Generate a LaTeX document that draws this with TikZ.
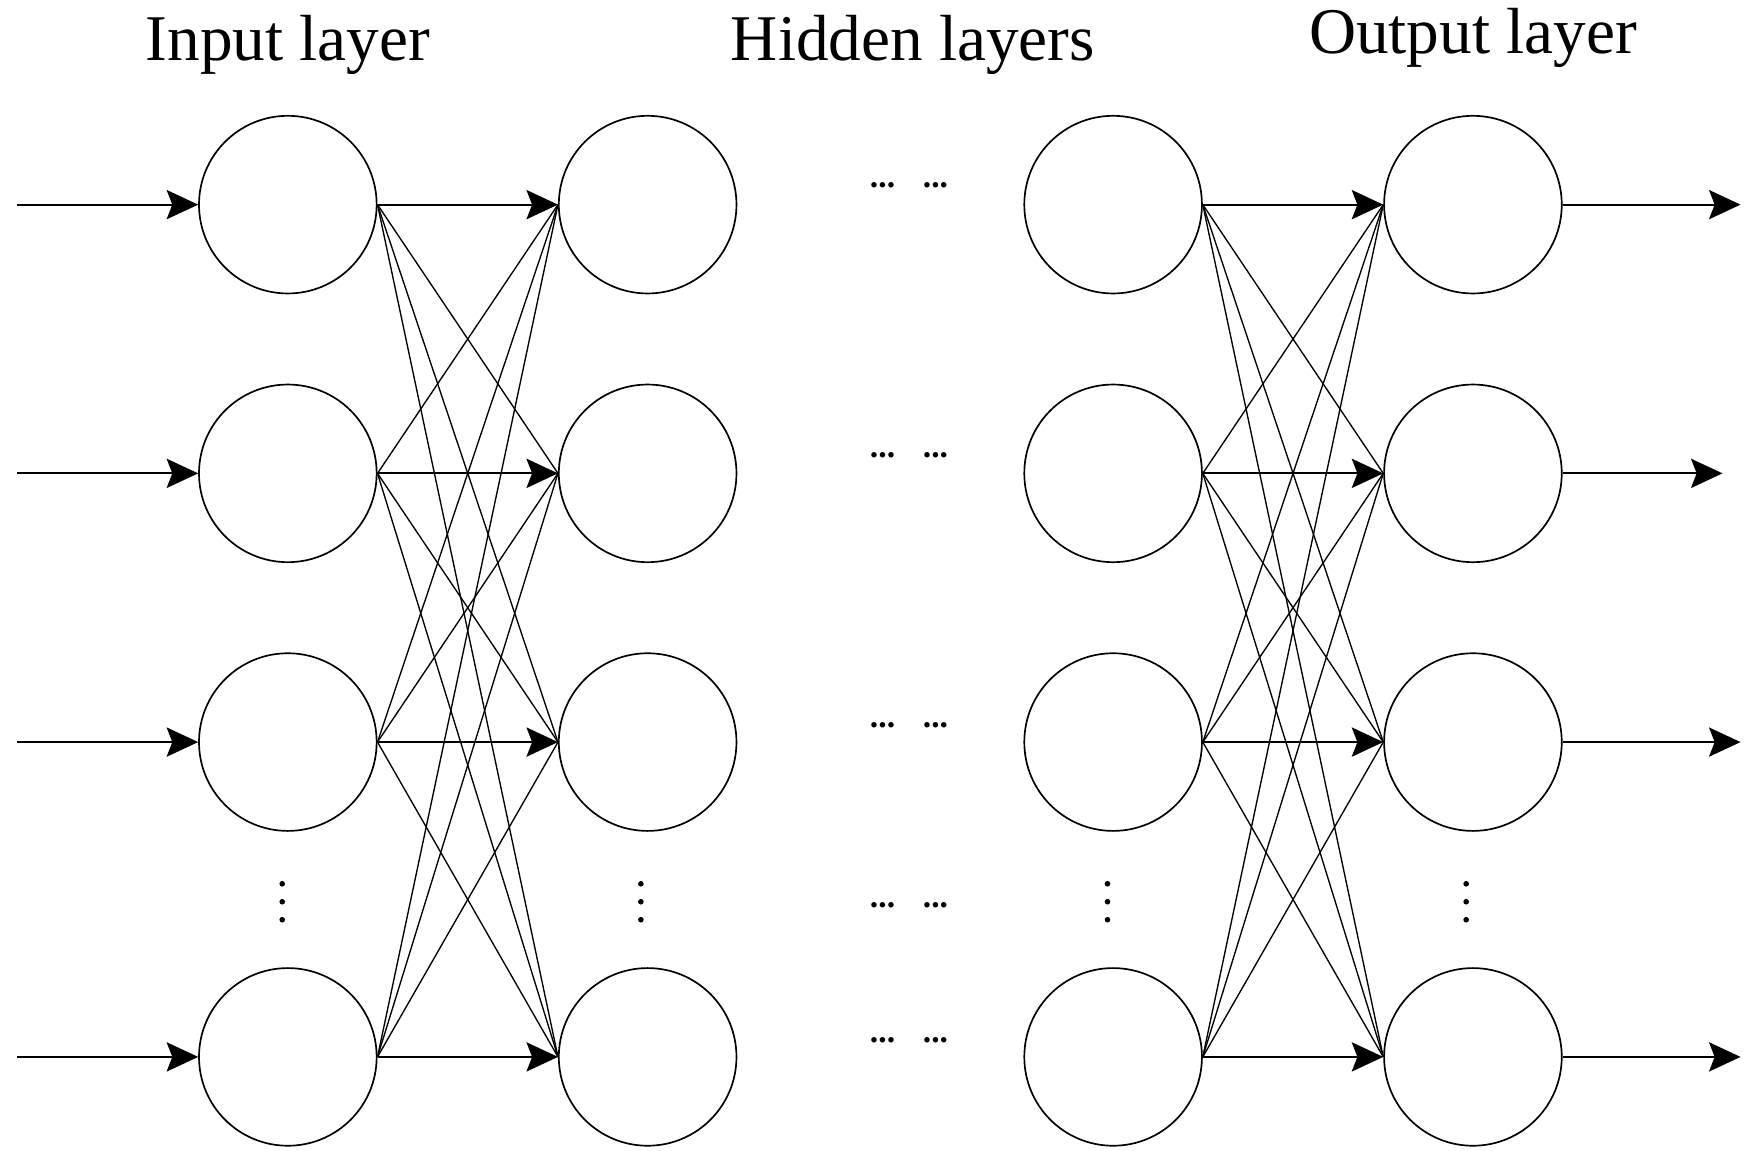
\documentclass[tikz,border=0pt]{standalone}
\usepackage{fontspec}
\setmainfont{Liberation Serif}
\usetikzlibrary{arrows.meta}
\begin{document}
\begin{tikzpicture}[x=1pt,y=-1pt,
  neuron/.style={circle,draw,line width=1.5pt,minimum size=158pt,inner sep=0pt},
  arr/.style={line width=1.8pt,-{Stealth[length=28pt,width=26pt,inset=5pt]}},
  ln/.style={line width=1.2pt},
  ttl/.style={font=\fontsize{58}{62}\selectfont},
  hd/.style={font=\fontsize{30}{30}\selectfont\bfseries},
  dot/.style={circle,fill,inner sep=0pt,minimum size=5pt}]
\useasboundingbox (0,0) rectangle (1560,1023);
\node[ttl] (t1) at (256,40) {Input layer};
\node[ttl] (t2) at (812,40) {Hidden layers};
\node[ttl] (t3) at (1310,34) {Output layer};
\foreach \r/\y in {1/182,2/421,3/660,4/940}{
  \node[neuron] (a\r) at (256,\y) {};
  \node[neuron] (b\r) at (576,\y) {};
  \node[neuron] (c\r) at (990,\y) {};
  \node[neuron] (d\r) at (1310,\y) {};
  \coordinate (in\r) at (15,\y);
  \draw[arr] (in\r) -- (a\r.west);
  \draw[arr] (a\r.east) -- (b\r.west);
  \draw[arr] (c\r.east) -- (d\r.west);
}
\coordinate (o1) at (1548,182);
\coordinate (o2) at (1532,421);
\coordinate (o3) at (1548,660);
\coordinate (o4) at (1548,940);
\foreach \r in {1,...,4}{\draw[arr] (d\r.east) -- (o\r);}
\foreach \i in {1,...,4}{\foreach \j in {1,...,4}{
  \ifnum\i=\j\else
  \draw[ln] (a\i.east) -- (b\j.west);
  \draw[ln] (c\i.east) -- (d\j.west);
  \fi}}
\foreach \y [count=\k] in {165,405,645,805,925}{
  \node[hd] (h\k a) at (785,\y) {...};
  \node[hd] (h\k b) at (832,\y) {...};
}
\foreach \x [count=\k] in {251,570,985,1304}{
  \node[dot] (v\k a) at (\x,786) {};
  \node[dot] (v\k b) at (\x,802) {};
  \node[dot] (v\k c) at (\x,818) {};
}
\end{tikzpicture}
\end{document}
